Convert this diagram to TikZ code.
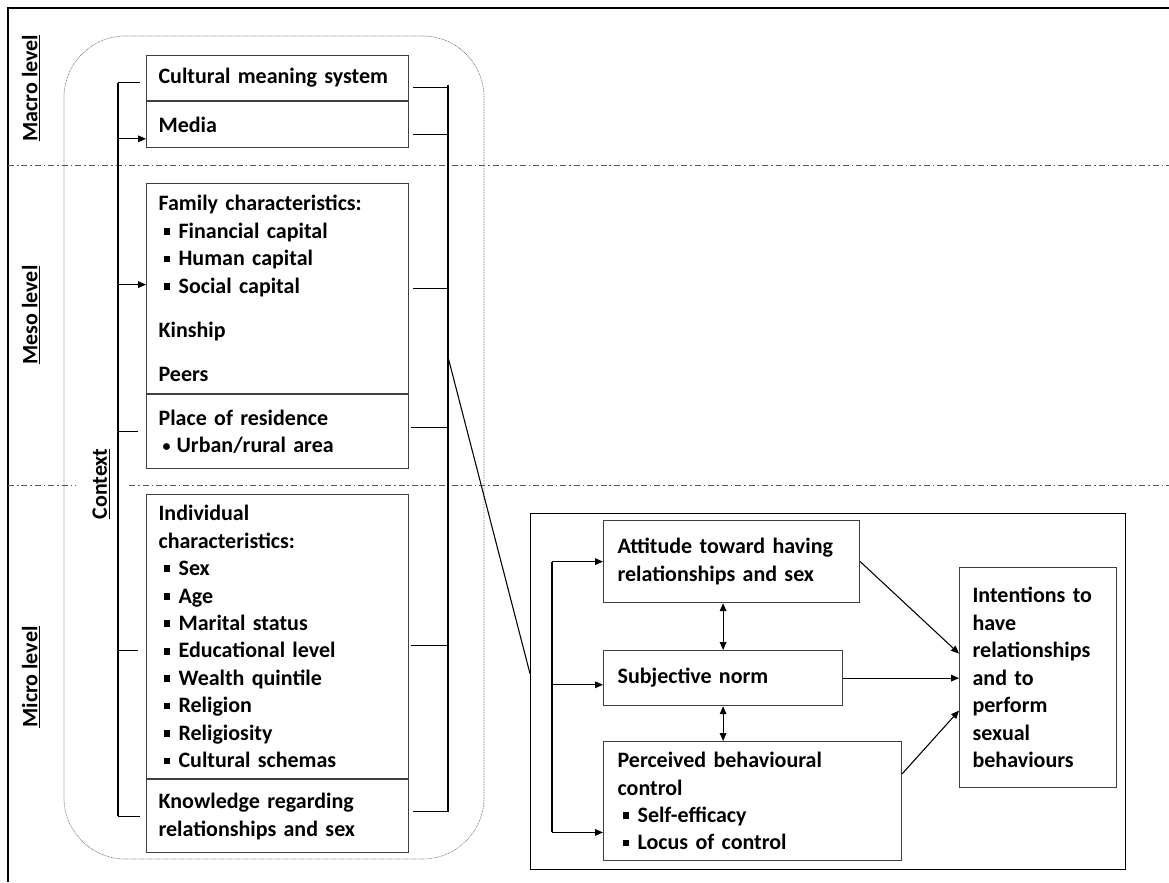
\documentclass[tikz,border=0pt]{standalone}
\usepackage{fontspec}
\setmainfont{Carlito}
\usepackage{tikz}
\usetikzlibrary{arrows.meta,positioning}
\newcommand{\sqb}{\makebox[15pt][l]{\hspace{3.75pt}\rule[2.6pt]{5pt}{5pt}}}
\newcommand{\rdb}{\makebox[13.5pt][l]{\hspace{3pt}\raisebox{0.6pt}{\fontsize{12}{12}\selectfont\textbullet}}}

\begin{document}
\begin{tikzpicture}[x=0.75pt, y=-0.75pt,
  every node/.style={font=\fontsize{16.5}{20.6}\selectfont\bfseries},
  box/.style={draw=black!75, line width=0.9pt, anchor=north west, align=left, inner xsep=9pt, inner ysep=0pt},
  lvl/.style={rotate=90, inner sep=1pt},
  link/.style={line width=0.8pt},
  arr/.style={link, -{Triangle[length=6pt,width=5pt]}},
  dbl/.style={link, {Triangle[length=6pt,width=5pt]}-{Triangle[length=6pt,width=5pt]}},
  sep/.style={black!65, line width=0.6pt, dash pattern=on 4.5pt off 2.2pt on 1.2pt off 2.2pt}]
  \useasboundingbox (0,0) rectangle (1169,882);

  % frame and level separators
  \draw[line width=1.3pt] (1169,8) -- (8,8) -- (8,882);
  \draw[sep] (8,165) -- (1169,165);
  \draw[sep] (8,485) -- (1169,485);
  \draw[black!55, line width=0.5pt, dash pattern=on 0.6pt off 0.6pt, rounded corners=46pt] (64,36) rectangle (484,859);

  \node[lvl] (macro) at (31,88) {\underline{Macro level}};
  \node[lvl] (meso) at (31,315) {\underline{Meso level}};
  \node[lvl] (micro) at (31,677) {\underline{Micro level}};
  \node[lvl, fill=white, inner ysep=12pt] (ctx) at (101,484) {\underline{Context}};

  % context boxes
  \node[box, text width=178.5pt, minimum height=33.75pt] (cult) at (146,55) {Cultural meaning system};
  \node[box, text width=178.5pt, minimum height=34.5pt, below=0pt of cult] (media) {Media};
  \node[box, text width=178.5pt, minimum height=157.5pt] (family) at (146,183) {Family characteristics:\\
    \sqb Financial capital\\
    \sqb Human capital\\
    \sqb Social capital\\[12.5pt]
    Kinship\\[12.5pt]
    Peers};
  \node[box, text width=178.5pt, minimum height=55.5pt, below=0pt of family] (place) {Place of residence\\
    \rdb Urban/rural area};
  \node[box, text width=178.5pt, minimum height=213pt] (indiv) at (146,494) {Individual\\
    characteristics:\\
    \sqb Sex\\
    \sqb Age\\
    \sqb Marital status\\
    \sqb Educational level\\
    \sqb Wealth quintile\\
    \sqb Religion\\
    \sqb Religiosity\\
    \sqb Cultural schemas};
  \node[box, text width=178.5pt, minimum height=54.75pt, below=0pt of indiv] (know) {Knowledge regarding\\
    relationships and sex};

  % brackets round the context boxes
  \coordinate (lx) at (118,0);
  \coordinate (rx) at (448,0);
  \draw[link] ([yshift=-3.4pt]cult.west -| lx) -- (know.west -| lx);
  \draw[link, shorten >=4.5pt] ([yshift=-3.4pt]cult.west -| lx) -- ([yshift=-3.4pt]cult.west);
  \draw[arr] ([yshift=-10.5pt]media.west -| lx) -- ([yshift=-10.5pt]media.west);
  \draw[arr] ([yshift=3pt]family.west -| lx) -- ([yshift=3pt]family.west);
  \draw[link, shorten >=6pt] (place.west -| lx) -- (place.west);
  \draw[link, shorten >=6pt] ([yshift=-10.5pt]indiv.west -| lx) -- ([yshift=-10.5pt]indiv.west);
  \draw[link, shorten >=4.5pt] (know.west -| lx) -- (know.west);

  \draw[link] ([yshift=-5pt]cult.east -| rx) -- ([yshift=3.5pt]know.east -| rx);
  \draw[link, shorten <=3pt] ([yshift=-7pt]cult.east) -- ([yshift=-7pt]cult.east -| rx);
  \draw[link, shorten <=3pt] ([yshift=-7.5pt]media.east) -- ([yshift=-7.5pt]media.east -| rx);
  \draw[link, shorten <=3pt] (family.east) -- (family.east -| rx);
  \draw[link, shorten <=1pt] ([yshift=3pt]place.east) -- ([yshift=3pt]place.east -| rx);
  \draw[link, shorten <=1pt] ([yshift=-7pt]indiv.east) -- ([yshift=-7pt]indiv.east -| rx);
  \draw[link, shorten <=3pt] ([yshift=3.5pt]know.east) -- ([yshift=3.5pt]know.east -| rx);

  % planned behaviour
  \node[draw, line width=0.9pt, anchor=north west, minimum width=446.25pt, minimum height=267pt] (tpb) at (530,513) {};
  \node[box, inner xsep=10.5pt, text width=171pt, minimum height=61.5pt] (att) at (603,520) {Attitude toward having\\
    relationships and sex};
  \node[box, inner xsep=10.5pt, text width=158.25pt, minimum height=41.25pt] (subj) at (603,650) {Subjective norm};
  \node[box, inner xsep=10.5pt, text width=202.5pt, minimum height=89.25pt] (perc) at (603,741) {Perceived behavioural\\
    control\\
    \sqb Self-efficacy\\
    \sqb Locus of control};
  \node[box, inner xsep=9.75pt, text width=98.25pt, minimum height=165pt] (intent) at (959,567) {Intentions to\\
    have\\
    relationships\\
    and to\\
    perform\\
    sexual\\
    behaviours};

  \draw[link] (rx |- 0,357) -- ([yshift=13.5pt]tpb.west);
  \coordinate (tx) at (552,0);
  \draw[link] (att.west -| tx) -- ([yshift=-23.5pt]perc.west -| tx);
  \draw[arr] (att.west -| tx) -- (att.west);
  \draw[arr] ([yshift=-5pt]subj.west -| tx) -- ([yshift=-5pt]subj.west);
  \draw[arr] ([yshift=-23.5pt]perc.west -| tx) -- ([yshift=-23.5pt]perc.west);
  \draw[dbl] (subj.north) -- (subj.north |- att.south);
  \draw[dbl] (subj.south) -- (subj.south |- perc.north);
  \draw[arr] (att.east) -- ([yshift=18pt]intent.west);
  \draw[arr] (subj.east) -- (subj.east -| intent.west);
  \draw[arr] ([yshift=20.5pt]perc.east) -- ([yshift=-24.75pt]intent.west);
\end{tikzpicture}
\end{document}
